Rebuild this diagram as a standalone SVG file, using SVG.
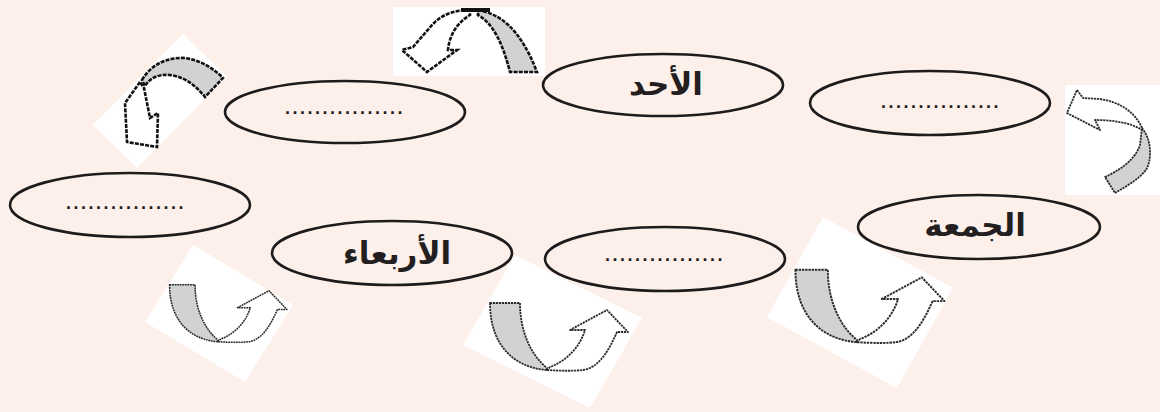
<svg xmlns="http://www.w3.org/2000/svg" width="1160" height="412" viewBox="0 0 1160 412">
<defs>
<style>
.bg{fill:#fdf0eb}
.box{fill:#ffffff}
.ell{fill:#fdf0eb;stroke:#1e1b1c;stroke-width:2.6}
.gray{fill:#d1d2d4;stroke:#2a2a2a;stroke-width:1.8;stroke-dasharray:2.2 0.8;stroke-linejoin:round}
.wht{fill:#ffffff;stroke:#2a2a2a;stroke-width:1.8;stroke-dasharray:2.2 0.8;stroke-linejoin:round}
.grayb{fill:#d1d2d4;stroke:#111;stroke-width:2.6;stroke-dasharray:4 1.2;stroke-linejoin:miter}
.whtb{fill:#ffffff;stroke:#111;stroke-width:2.6;stroke-dasharray:4 1.2;stroke-linejoin:miter}
.pix{fill:none;stroke:#111;stroke-width:4}
.ar{font-family:"DejaVu Sans",sans-serif;font-weight:bold;font-size:31px;fill:#231f20;text-anchor:middle;direction:rtl}
.dots{font-family:"Liberation Sans",sans-serif;font-weight:bold;font-size:18px;fill:#231f20;letter-spacing:2.5px}
</style>
<g id="arrowU">
<path class="gray" d="M -57,-65 L -27,-65 C -27,-35 -15,-12 0,0 L 0,2 C -30,0 -57,-20 -57,-65 Z"/>
<path class="wht" d="M 0,2 C 15,3 28,3 36,2 C 52,0 62,-18 70,-36 L 81,-36 L 60,-58 L 23,-38 L 38,-38 C 34,-24 22,-8 3,-1 Z"/>
</g>
</defs>
<rect class="bg" x="0" y="0" width="1160" height="412"/>

<g id="boxes">
<rect class="box" x="393" y="7" width="152" height="69"/>
<polygon class="box" points="93,125 183,34 227,77 137,168"/>
<rect class="box" x="1065" y="85" width="95" height="110"/>
<polygon class="box" points="145,322 193,245 293,305 245,382"/>
<polygon class="box" points="463,345 515,255 642,318 590,408"/>
<polygon class="box" points="767,317 823,217 953,288 897,388"/>
</g>

<g id="connectors">
<g id="arrow-top">
<path class="grayb" d="M 478,10 C 500,14 520,28 537,72 L 510,72 C 503,45 494,24 478,15 Z"/>
<path class="whtb" d="M 470,10 C 455,10 442,14 432,25 L 413,47 L 402,50 L 427,72 L 457,50 L 448,50 C 449,38 455,24 470,15 Z"/>
<path class="pix" d="M 461,10 L 490,10"/>
</g>
<g id="arrow-topleft">
<path class="grayb" d="M 142,80 C 150,66 165,57 185,58 C 200,60 213,68 223,78 L 205,97 C 195,85 185,77 170,75 C 158,74 150,78 145,86 Z"/>
<path class="whtb" d="M 140,82 L 125,103 L 127,142 L 157,147 L 158,113 L 150,118 L 144,88 Z"/>
</g>
<g id="arrow-right">
<path class="gray" d="M 1142,128 C 1152,140 1152,160 1146,170 C 1138,180 1125,187 1115,193 L 1105,177 C 1120,170 1135,160 1140,145 Z"/>
<path class="wht" d="M 1142,128 C 1135,112 1120,102 1100,99 L 1083,98 L 1077,90 L 1067,113 L 1100,130 L 1095,120 C 1110,120 1130,122 1142,130 Z"/>
</g>
<use href="#arrowU" transform="translate(218,340) scale(0.85)"/>
<use href="#arrowU" transform="translate(547,368)"/>
<use href="#arrowU" transform="translate(857,340) scale(1.08)"/>
</g>

<g id="node-ahad">
<ellipse class="ell" cx="663" cy="85" rx="120" ry="31"/>
<text class="ar" x="666" y="95">الأحد</text>
</g>
<g id="node-topright">
<ellipse class="ell" cx="930" cy="103" rx="120" ry="32"/>
<text class="dots" x="881" y="108">................</text>
</g>
<g id="node-upperleft">
<ellipse class="ell" cx="345" cy="112" rx="120" ry="31"/>
<text class="dots" x="285" y="114">................</text>
</g>
<g id="node-left">
<ellipse class="ell" cx="130" cy="205" rx="120" ry="32"/>
<text class="dots" x="66" y="209">................</text>
</g>
<g id="node-arbiaa">
<ellipse class="ell" cx="392" cy="253" rx="120" ry="32"/>
<text class="ar" x="397" y="264">الأربعاء</text>
</g>
<g id="node-middle">
<ellipse class="ell" cx="665" cy="259" rx="120" ry="32"/>
<text class="dots" x="605" y="261">................</text>
</g>
<g id="node-jumua">
<ellipse class="ell" cx="979" cy="227" rx="121" ry="32"/>
<text class="ar" x="975" y="236">الجمعة</text>
</g>
</svg>
